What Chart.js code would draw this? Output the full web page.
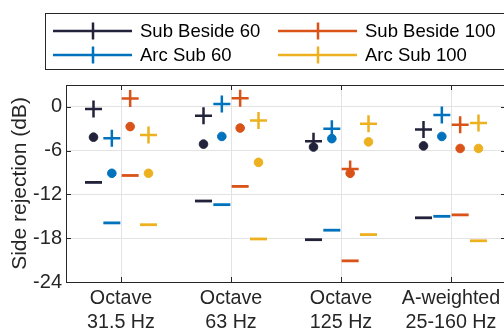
<!DOCTYPE html>
<html>
<head>
<meta charset="utf-8">
<script src="https://cdn.jsdelivr.net/npm/chart.js@4"></script>
<style>
  html, body { margin: 0; padding: 0; background: #fff; overflow: hidden; }
  #wrap { width: 520px; height: 329px; }
</style>
</head>
<body>
<div id="wrap"><canvas id="sideRejectionChart" width="520" height="329"></canvas></div>
<script>
// Categories (two-line tick labels)
const categories = [
  ["Octave", "31.5 Hz"],
  ["Octave", "63 Hz"],
  ["Octave", "125 Hz"],
  ["A-weighted", "25-160 Hz"],
];
const yTicks = [-24, -18, -12, -6, 0];

// Series, in left-to-right order inside each category
const seriesNames = ["Sub Beside 60", "Arc Sub 60", "Sub Beside 100", "Arc Sub 100"];
const seriesColors = ["#22223b", "#0072bd", "#d95319", "#edb120"];
const seriesOffsets = [-0.25, -0.0833, 0.0833, 0.25];

// "+" marker (max), dot (mean), dash (min) per series, dB
const subBeside60Max = [-0.3, -1.2, -4.7, -3.1];
const subBeside60Mean = [-4.15, -5.1, -5.5, -5.35];
const subBeside60Min = [-10.35, -12.9, -18.2, -15.2];

const arcSub60Max = [-4.3, 0.4, -3.0, -1.1];
const arcSub60Mean = [-9.1, -4.05, -4.35, -4.05];
const arcSub60Min = [-15.9, -13.4, -16.9, -15.0];

const subBeside100Max = [1.15, 1.2, -8.5, -2.45];
const subBeside100Mean = [-2.7, -2.9, -9.1, -5.7];
const subBeside100Min = [-9.4, -10.9, -21.1, -14.8];

const arcSub100Max = [-3.85, -1.85, -2.3, -2.2];
const arcSub100Mean = [-9.1, -7.6, -4.8, -5.7];
const arcSub100Min = [-16.15, -18.1, -17.5, -18.35];

const seriesValues = [
  [subBeside60Max, subBeside60Mean, subBeside60Min],
  [arcSub60Max, arcSub60Mean, arcSub60Min],
  [subBeside100Max, subBeside100Mean, subBeside100Min],
  [arcSub100Max, arcSub100Mean, arcSub100Min],
];

// Legend is laid out in two columns, row by row
const legendOrder = [0, 2, 1, 3];

const FONT = "'Liberation Sans', Arial, Helvetica, sans-serif";
const TEXT_COLOR = "#262626";
const markerStyles = [
  { pointStyle: "cross", radius: 8.5, borderWidth: 2.5 },
  { pointStyle: "circle", radius: 4.3, borderWidth: 1 },
  { pointStyle: "line", radius: 8.5, borderWidth: 2.8 },
];

const datasets = [];
seriesValues.forEach(function (groups, s) {
  groups.forEach(function (values, m) {
    datasets.push({
      label: seriesNames[s],
      data: values.map(function (v, i) {
        return { x: i + 1 + seriesOffsets[s], y: v };
      }),
      showLine: false,
      pointStyle: markerStyles[m].pointStyle,
      pointRadius: markerStyles[m].radius,
      pointHoverRadius: markerStyles[m].radius,
      pointBorderWidth: markerStyles[m].borderWidth,
      borderColor: seriesColors[s],
      backgroundColor: seriesColors[s],
    });
  });
});

// Box, inward tick marks and MATLAB-like legend
const matlabFrame = {
  id: "matlabFrame",
  afterDraw: function (chart) {
    const ctx = chart.ctx;
    const area = chart.chartArea;
    const xs = chart.scales.x;
    const ys = chart.scales.y;
    const tickLen = 5;

    ctx.save();
    ctx.strokeStyle = TEXT_COLOR;
    ctx.lineWidth = 1;
    ctx.beginPath();
    ctx.moveTo(area.left, area.top + 0.5);
    ctx.lineTo(area.right, area.top + 0.5);
    ctx.moveTo(area.right - 0.5, area.top);
    ctx.lineTo(area.right - 0.5, area.bottom);
    categories.forEach(function (c, i) {
      const px = Math.round(xs.getPixelForValue(i + 1)) + 0.5;
      ctx.moveTo(px, area.bottom);
      ctx.lineTo(px, area.bottom - tickLen);
      ctx.moveTo(px, area.top);
      ctx.lineTo(px, area.top + tickLen);
    });
    yTicks.forEach(function (v) {
      const py = Math.round(ys.getPixelForValue(v)) + 0.5;
      ctx.moveTo(area.left, py);
      ctx.lineTo(area.left + tickLen, py);
      ctx.moveTo(area.right, py);
      ctx.lineTo(area.right - tickLen, py);
    });
    ctx.stroke();

    // legend box
    ctx.fillStyle = "#fff";
    ctx.fillRect(45, 13, 470, 56);
    ctx.strokeStyle = "#262626";
    ctx.strokeRect(45.5, 13.5, 470, 56);

    ctx.font = "18.5px " + FONT;
    ctx.textBaseline = "middle";
    ctx.textAlign = "left";
    legendOrder.forEach(function (s, k) {
      const col = k % 2;
      const row = Math.floor(k / 2);
      const x0 = col === 0 ? 53 : 278;
      const y = row === 0 ? 31 : 55;
      ctx.strokeStyle = seriesColors[s];
      ctx.lineWidth = 2.5;
      ctx.beginPath();
      ctx.moveTo(x0, y);
      ctx.lineTo(x0 + 79, y);
      ctx.moveTo(x0 + 40, y - 8.5);
      ctx.lineTo(x0 + 40, y + 8.5);
      ctx.stroke();
      ctx.fillStyle = "#000";
      ctx.fillText(seriesNames[s], x0 + 87, y + 1);
    });
    ctx.restore();
  },
};

const ctx = document.getElementById("sideRejectionChart");
new Chart(ctx, {
  type: "scatter",
  data: { datasets: datasets },
  options: {
    responsive: false,
    animation: false,
    devicePixelRatio: 1,
    layout: {
      padding: { left: 0, top: 85, right: 14, bottom: 0 },
    },
    plugins: {
      legend: { display: false },
      tooltip: { enabled: false },
    },
    scales: {
      x: {
        type: "linear",
        min: 0.5,
        max: 4.5,
        afterFit: function (scale) {
          scale.height = 47;
        },
        afterBuildTicks: function (scale) {
          scale.ticks = categories.map(function (c, i) {
            return { value: i + 1 };
          });
        },
        ticks: {
          autoSkip: false,
          maxRotation: 0,
          padding: 4,
          color: TEXT_COLOR,
          font: { family: FONT, size: 19.7, lineHeight: 1.25 },
          callback: function (value) {
            return categories[value - 1];
          },
        },
        grid: { color: "#e3e3e3", drawTicks: false },
        border: { color: TEXT_COLOR, width: 1 },
      },
      y: {
        min: -24,
        max: 3,
        afterFit: function (scale) {
          scale.width = 66;
        },
        afterBuildTicks: function (scale) {
          scale.ticks = yTicks.map(function (v) {
            return { value: v };
          });
        },
        ticks: {
          padding: 4,
          color: TEXT_COLOR,
          font: { family: FONT, size: 20 },
          callback: function (value) {
            return String(value);
          },
        },
        title: {
          display: true,
          text: "Side rejection (dB)",
          color: TEXT_COLOR,
          font: { family: FONT, size: 21 },
          padding: { top: 8, bottom: 0 },
        },
        grid: { color: "#e3e3e3", drawTicks: false },
        border: { color: TEXT_COLOR, width: 1 },
      },
    },
  },
  plugins: [matlabFrame],
});
</script>
</body>
</html>
